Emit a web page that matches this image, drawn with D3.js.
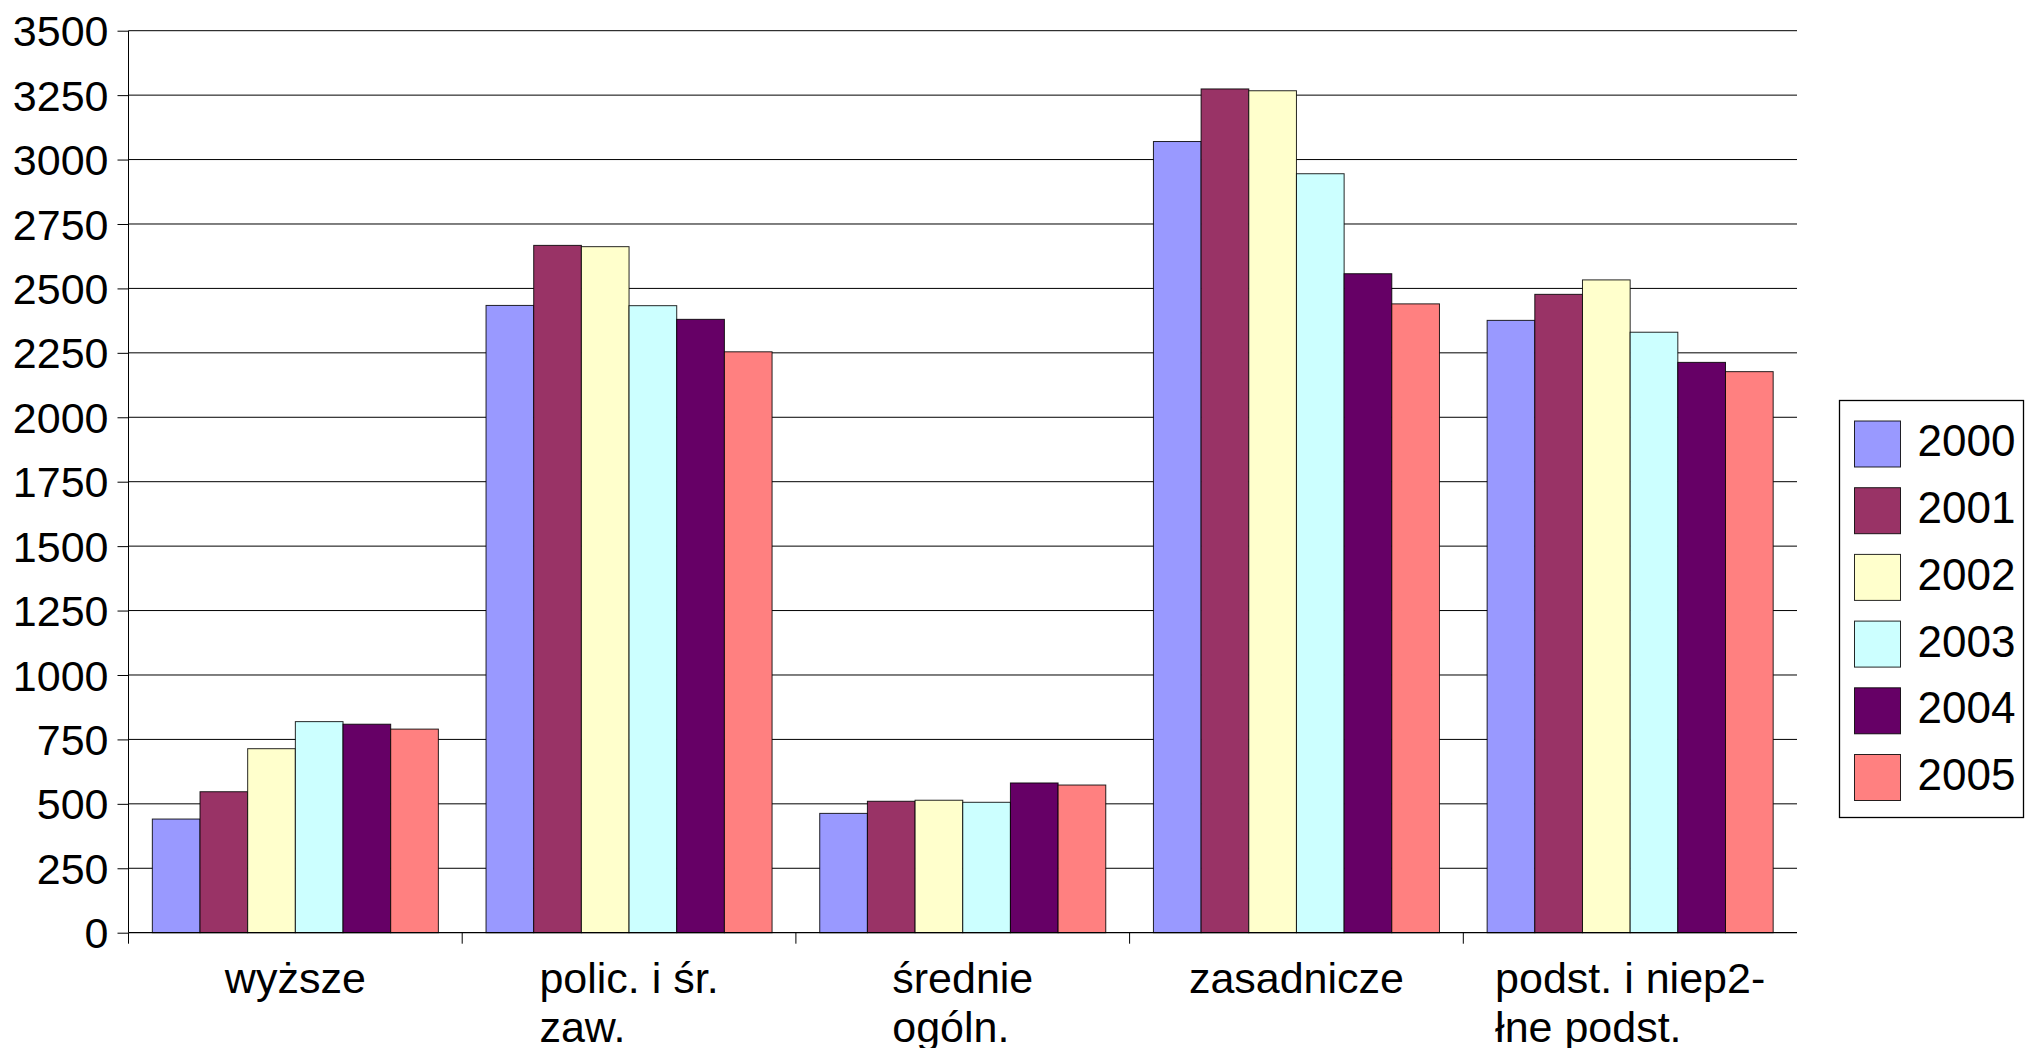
<!DOCTYPE html>
<html>
<head>
<meta charset="utf-8">
<script src="https://cdn.jsdelivr.net/npm/d3@7"></script>
<style>
  html, body { margin: 0; padding: 0; background: #fff; }
  svg { display: block; font-family: "Liberation Sans", Arial, sans-serif; }
</style>
</head>
<body>
<svg id="chart" width="2026" height="1048"></svg>
<script>
// ---- data ----
const categories = ["wyższe", "polic. i śr.\nzaw.", "średnie\nogóln.", "zasadnicze", "podst. i niep2-\nłne podst."];
const years = ["2000", "2001", "2002", "2003", "2004", "2005"];
const v2000 = [441, 2434, 463, 3070, 2376];
const v2001 = [547, 2667, 510, 3274, 2477];
const v2002 = [714, 2662, 514, 3267, 2533];
const v2003 = [819, 2433, 506, 2945, 2330];
const v2004 = [809, 2380, 581, 2557, 2213];
const v2005 = [790, 2254, 573, 2440, 2177];
const seriesValues = [v2000, v2001, v2002, v2003, v2004, v2005];
const colors = ["#9999FF", "#993366", "#FFFFCC", "#CCFFFF", "#660066", "#FF8080"];
const yTicks = [0, 250, 500, 750, 1000, 1250, 1500, 1750, 2000, 2250, 2500, 2750, 3000, 3250, 3500];

// ---- layout ----
const svg = d3.select("#chart");
const pLeft = 128.5, pRight = 1797, pTop = 30.7, pBottom = 932.7;

const x = d3.scaleBand().domain(d3.range(categories.length)).range([pLeft, pRight]).paddingInner(0).paddingOuter(0);
const xs = d3.scaleBand().domain(years).range([0, x.bandwidth()]).paddingInner(0).paddingOuter(0.5);
const y = d3.scaleLinear().domain([0, 3500]).range([pBottom, pTop]);

// gridlines
svg.append("g")
  .selectAll("line").data(yTicks.filter(t => t > 0)).join("line")
  .attr("x1", pLeft).attr("x2", pRight)
  .attr("y1", d => y(d)).attr("y2", d => y(d))
  .attr("stroke", "#000").attr("stroke-width", 1);

// y axis
const yAxis = d3.axisLeft(y).tickValues(yTicks).tickSize(11).tickPadding(9).tickFormat(d3.format("d"));
const gy = svg.append("g").attr("transform", `translate(${pLeft},0)`).call(yAxis);
gy.select(".domain").attr("stroke", "#000").attr("d", `M0,${pTop}V${pBottom}`);
gy.selectAll(".tick line").attr("stroke", "#000");
gy.selectAll(".tick text").attr("font-size", 43).attr("fill", "#000")
  .attr("font-family", '"Liberation Sans", Arial, sans-serif').attr("dy", "0.35em");

// bars
const groups = svg.append("g").selectAll("g").data(categories).join("g")
  .attr("transform", (d, i) => `translate(${x(i)},0)`);
groups.selectAll("rect")
  .data((d, i) => years.map((yr, s) => ({ yr, s, v: seriesValues[s][i] })))
  .join("rect")
  .attr("x", d => xs(d.yr))
  .attr("width", xs.bandwidth())
  .attr("y", d => y(d.v))
  .attr("height", d => pBottom - y(d.v))
  .attr("fill", d => colors[d.s])
  .attr("stroke", "#000").attr("stroke-width", 1).attr("stroke-opacity", 0.85);

// x axis (ticks at category boundaries, none at the right end)
const boundaries = d3.range(categories.length).map(i => pLeft + i * x.step());
const gx = svg.append("g");
gx.append("line").attr("x1", pLeft).attr("x2", pRight).attr("y1", pBottom).attr("y2", pBottom)
  .attr("stroke", "#000").attr("stroke-width", 1.3);
gx.selectAll("line.tk").data(boundaries).join("line").attr("class", "tk")
  .attr("x1", d => d).attr("x2", d => d).attr("y1", pBottom).attr("y2", pBottom + 11)
  .attr("stroke", "#000");

// category labels (wrapped, block centered, lines left aligned)
const labelG = gx.selectAll("g.lab").data(categories).join("g").attr("class", "lab");
labelG.each(function (d, i) {
  const g = d3.select(this);
  const lines = d.split("\n");
  const t = g.append("text").attr("font-size", 43).attr("fill", "#000");
  lines.forEach((ln, k) => {
    t.append("tspan").attr("x", 0).attr("y", 993 + k * 49).text(ln);
  });
  let maxW = 0;
  t.selectAll("tspan").each(function () { maxW = Math.max(maxW, this.getComputedTextLength()); });
  const cx = x(i) + x.bandwidth() / 2;
  g.attr("transform", `translate(${cx - maxW / 2},0)`);
});

// legend
const lg = svg.append("g");
lg.append("rect").attr("x", 1839.5).attr("y", 400.5).attr("width", 184).attr("height", 417)
  .attr("fill", "#fff").attr("stroke", "#000").attr("stroke-width", 1.3);
const li = lg.selectAll("g.li").data(years).join("g").attr("class", "li")
  .attr("transform", (d, i) => `translate(1854.5, ${421 + i * 66.7})`);
li.append("rect").attr("width", 46).attr("height", 46)
  .attr("fill", (d, i) => colors[i]).attr("stroke", "#000").attr("stroke-width", 1).attr("stroke-opacity", 0.85);
li.append("text").attr("x", 63).attr("y", 20).attr("dy", "0.35em")
  .attr("font-size", 44).attr("fill", "#000").text(d => d);
</script>
</body>
</html>
